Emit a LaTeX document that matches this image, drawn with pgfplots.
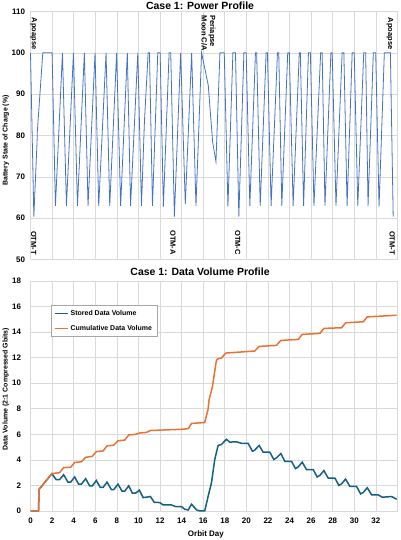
\documentclass[border=0pt]{standalone}
\usepackage{pgfplots}
\pgfplotsset{compat=1.18}
\usepackage{fontspec}
\setmainfont{Liberation Sans}
\definecolor{powerblue}{RGB}{68,114,196}
\definecolor{storedblue}{RGB}{21,96,130}
\definecolor{cumorange}{RGB}{233,113,50}
\definecolor{gridgray}{RGB}{217,217,217}
\begin{document}
\begin{tikzpicture}[x=1bp,y=1bp]
\path[use as bounding box] (0,0) rectangle (400,540);
\pgfplotsset{
  mystyle/.style={
    scale only axis, width=367bp, xmin=0, xmax=34,
    xtick={0,2,...,34},
    grid=major, major grid style={draw=gridgray, line width=0.6bp},
    axis line style={draw=none}, tick style={draw=none},
    tick label style={font=\fontsize{8}{9}\selectfont\bfseries},
    /pgf/number format/assume math mode=true,
    label style={font=\fontsize{7}{8}\selectfont\bfseries},
    clip=false,
  }
}
% ---------------- Top: power profile ----------------
\begin{axis}[mystyle, at={(30.5bp,280.5bp)}, anchor=south west,
  height=248bp, ymin=50, ymax=110, ytick={50,60,...,110},
  xticklabels={},
  yticklabel style={xshift=-2bp},
  ylabel={Battery State of Charge (\%)},
  ylabel style={at={(axis description cs:-0.067,0.48)}, anchor=center},
]
\addplot[powerblue, line width=0.8bp] coordinates {
(0,100) (0.31,60.4) (0.62,79.3) (0.62,80.5) (1.14,100) (2.0,100)
(2.31,63) (2.96,100) (3.33,63) (3.98,100) (4.35,63) (4.99,100)
(5.33,63) (5.98,100) (6.32,63) (7.0,100) (7.34,63) (7.98,100)
(8.35,63) (8.97,100) (9.27,63) (9.94,100) (10.28,63) (10.54,82.3) (10.56,83.6)
(10.90,100) (11.02,100) (11.30,63) (11.79,100) (12.01,100)
(12.31,62.8) (12.84,100) (12.99,100) (13.33,60.4) (13.91,100)
(14.34,63.4) (14.93,100) (15.33,63) (15.85,100)
(16.47,92.1) (16.87,78.5) (17.18,73.7) (17.55,100) (17.95,100)
(18.29,62.8) (18.75,100) (18.99,100) (19.30,60.4) (19.77,100) (19.98,100)
(20.32,63) (20.84,100) (20.95,100) (21.28,63) (21.83,100) (21.95,100)
(22.29,63) (22.88,100) (23.0,100) (23.28,63) (23.83,100) (23.98,100)
(24.33,63) (24.90,100) (25.0,100) (25.30,63) (25.75,100) (25.93,100)
(26.26,63) (26.88,100) (27.02,100) (27.28,63) (27.83,100) (27.95,100)
(28.30,63) (28.87,100) (29.03,100) (29.33,63) (29.80,100) (29.99,100)
(30.32,63) (30.87,100) (31.05,100) (31.27,63) (31.76,100) (31.98,100)
(32.29,62.8) (32.78,100) (33.34,100) (33.60,60.4)
};
\node[anchor=center, inner sep=0pt, font=\fontsize{10.5}{12}\selectfont\bfseries] at (axis description cs:0.462,1.024) {Case 1: Power Profile};
\node[rotate=-90, anchor=west, font=\fontsize{7.5}{8}\selectfont\bfseries] at (axis cs:0.3,109.3) {Apoapse};
\node[rotate=-90, anchor=west, font=\fontsize{7.5}{8}\selectfont\bfseries] at (axis cs:33.3,109.3) {Apoapse};
\node[rotate=-90, anchor=west, align=left, inner sep=0pt, font=\fontsize{7.5}{8.5}\selectfont\bfseries] at (axis cs:16.5,109.0) {Periapse\\Moon C/A};
\node[rotate=-90, anchor=east, font=\fontsize{7.5}{8}\selectfont\bfseries] at (axis cs:0.3,50.3) {OTM-T};
\node[rotate=-90, anchor=east, font=\fontsize{7.5}{8}\selectfont\bfseries] at (axis cs:13.2,50.3) {OTM-A};
\node[rotate=-90, anchor=east, font=\fontsize{7.5}{8}\selectfont\bfseries] at (axis cs:19.2,50.3) {OTM-C};
\node[rotate=-90, anchor=east, font=\fontsize{7.5}{8}\selectfont\bfseries] at (axis cs:33.5,50.3) {OTM-T};
\end{axis}
% ---------------- Bottom: data volume ----------------
\begin{axis}[mystyle, at={(30.5bp,29bp)}, anchor=south west,
  height=230bp, ymin=0, ymax=18, ytick={0,2,...,18},
  xticklabels={0,2,4,6,8,10,12,14,16,18,20,22,24,26,28,30,32,{}},
  yticklabel style={xshift=-6bp},
  xticklabel style={yshift=-3bp},
  xlabel={Orbit Day},
  xlabel style={at={(axis description cs:0.478,-0.104)}, anchor=center, font=\fontsize{8}{9}\selectfont\bfseries},
  ylabel={Data Volume (2:1 Compressed Gbits)},
  ylabel style={at={(axis description cs:-0.067,0.53)}, anchor=center},
  legend style={at={(axis cs:1.9,16.1)}, anchor=north west, draw=gray!70,
    font=\fontsize{7}{8}\selectfont\bfseries, row sep=4bp, inner xsep=3bp, inner ysep=3bp},
  legend cell align=left,
  legend image code/.code={\draw[#1] (0bp,0bp) -- (13bp,0bp);},
]
\addplot[storedblue, line width=1.5bp] coordinates {
(0,0) (0.74,0) (0.8,1.7) (1.98,2.92)
(2.38,2.45) (2.69,2.45) (3.07,2.84) (3.47,2.26) (3.72,2.26) (4.09,2.66)
(4.46,2.1) (4.71,2.1) (5.11,2.53) (5.48,1.97) (5.73,1.97) (6.10,2.39)
(6.47,1.84) (6.72,1.84) (7.09,2.26) (7.49,1.68) (7.71,1.68) (8.11,2.1)
(8.48,1.55) (8.73,1.55) (9.10,1.97) (9.44,1.39) (9.72,1.39) (10.09,1.63)
(10.43,1.05) (10.74,1.08) (11.11,1.13) (11.46,0.68) (11.98,0.66) (12.29,0.47)
(13.06,0.47) (13.47,0.34) (13.99,0.34) (14.3,0.13) (14.61,0.08) (14.92,0.53)
(15.39,0.08) (15.7,0) (16.14,0) (16.45,1.13) (16.76,2.18) (17.07,4.03)
(17.38,5.13) (17.69,5.21) (18.15,5.61) (18.46,5.39) (19.08,5.42) (19.54,5.29)
(20.16,5.29) (20.56,4.68) (20.77,4.76) (21.18,5.13) (21.55,4.61) (22.17,4.61)
(22.54,4.03) (22.79,4.16) (23.19,4.5) (23.56,3.89) (24.18,3.89) (24.55,3.32)
(24.80,3.45) (25.17,3.82) (25.57,3.24) (26.19,3.24) (26.56,2.66) (26.81,2.79)
(27.18,3.16) (27.58,2.58) (28.20,2.58) (28.57,2.0) (28.82,2.13) (29.19,2.5)
(29.59,1.92) (30.21,1.92) (30.58,1.34) (30.83,1.45) (31.20,1.82) (31.60,1.26)
(32.22,1.26) (32.59,1.08) (33.45,1.13) (33.92,0.92)
};
\addlegendentry{Stored Data Volume}
\addplot[cumorange, line width=1.5bp] coordinates {
(0,0) (0.74,0) (0.8,1.7) (1.98,2.92) (2.69,3.0) (3.07,3.4) (3.72,3.42)
(4.09,3.8) (4.71,3.85) (5.11,4.2) (5.73,4.28) (6.10,4.65) (6.72,4.7)
(7.09,5.1) (7.71,5.15) (8.11,5.5) (8.73,5.55) (9.10,5.95) (9.72,6.0)
(10.09,6.1) (10.74,6.15) (11.11,6.3) (14.15,6.4) (14.61,6.45) (14.92,6.85)
(15.7,6.9) (16.14,6.92) (16.45,7.97) (16.54,8.68) (16.85,9.71) (17.22,11.79)
(17.37,11.92) (17.69,11.97) (18.09,12.36) (20.77,12.52) (21.18,12.88)
(22.79,12.96) (23.19,13.35) (24.80,13.43) (25.17,13.82) (26.81,13.90)
(27.18,14.29) (28.82,14.34) (29.19,14.73) (30.83,14.81) (31.20,15.19) (33.92,15.32)
};
\addlegendentry{Cumulative Data Volume}
\node[anchor=center, inner sep=0pt, font=\fontsize{10.5}{12}\selectfont\bfseries] at (axis description cs:0.462,1.038) {Case 1: Data Volume Profile};
\end{axis}
\end{tikzpicture}
\end{document}
